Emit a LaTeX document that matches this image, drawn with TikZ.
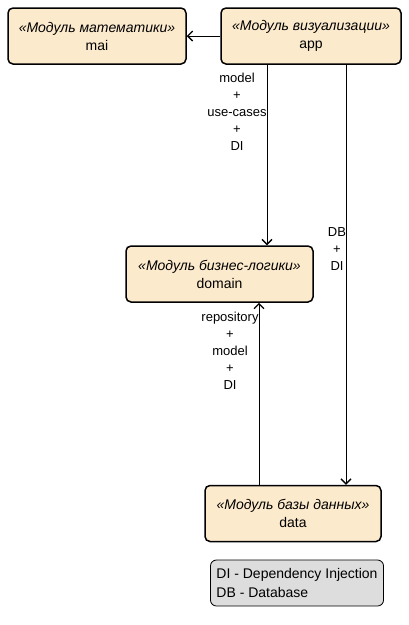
\documentclass[tikz,border=0pt]{standalone}
\usepackage{fontspec}
\setmainfont{Liberation Sans}
\usetikzlibrary{arrows.meta}
\definecolor{module fill}{HTML}{FCEACD}
\definecolor{note fill}{HTML}{DDDDDD}
\tikzstyle{module} = [draw=black, line width=1.5pt, fill=module fill, rounded corners=5pt,
  minimum height=56pt, inner sep=0pt, align=center, font=\fontsize{14}{18}\selectfont]
\tikzstyle{edge} = [draw, line width=0.9pt, -{Straight Barb[length=5pt,width=10pt,line width=1.4pt]}]
\tikzstyle{edge label} = [inner sep=0pt, align=center, font=\fontsize{13}{17}\selectfont]
\tikzstyle{legend} = [draw=black, line width=0.8pt, fill=note fill, rounded corners=6pt,
  minimum width=172pt, minimum height=46pt, inner xsep=6pt, align=left, font=\fontsize{14}{19}\selectfont]

\begin{document}
\begin{tikzpicture}[x=1pt,y=-1pt]
  \useasboundingbox (0,0) rectangle (408,625);

  \foreach \pos/\name/\kind/\boxw in {{(97,36)/mai/Модуль математики/178},
      {(311,36)/app/Модуль визуализации/180}, {(219.5,274)/domain/Модуль бизнес-логики/187},
      {(293,513.5)/data/Модуль базы данных/176}} {
    \node[module, minimum width=\boxw pt] (\name) at \pos {{\itshape «\kind»}\\\name};
  }

  \path[edge] (app.west) -- (mai.east);
  \foreach \source/\sx/\sink/\dx in {app.south/-44/domain.north/47.5, app.south/35/data.north/53,
      data.north/-34/domain.south/39.5} {
    \path[edge] ([xshift=\sx pt]\source) -- ([xshift=\dx pt]\sink);
  }

  % labels of the dependencies
  \node[edge label] (uses) at (237,112) {model\\+\\use-cases\\+\\DI};
  \node[edge label] (dbdi) at (337,249) {DB\\+\\DI};
  \node[edge label] (repo) at (230,351) {repository\\+\\model\\+\\DI};

  \node[legend] (note) at (297,583) {DI - Dependency Injection\\DB - Database};
\end{tikzpicture}
\end{document}
